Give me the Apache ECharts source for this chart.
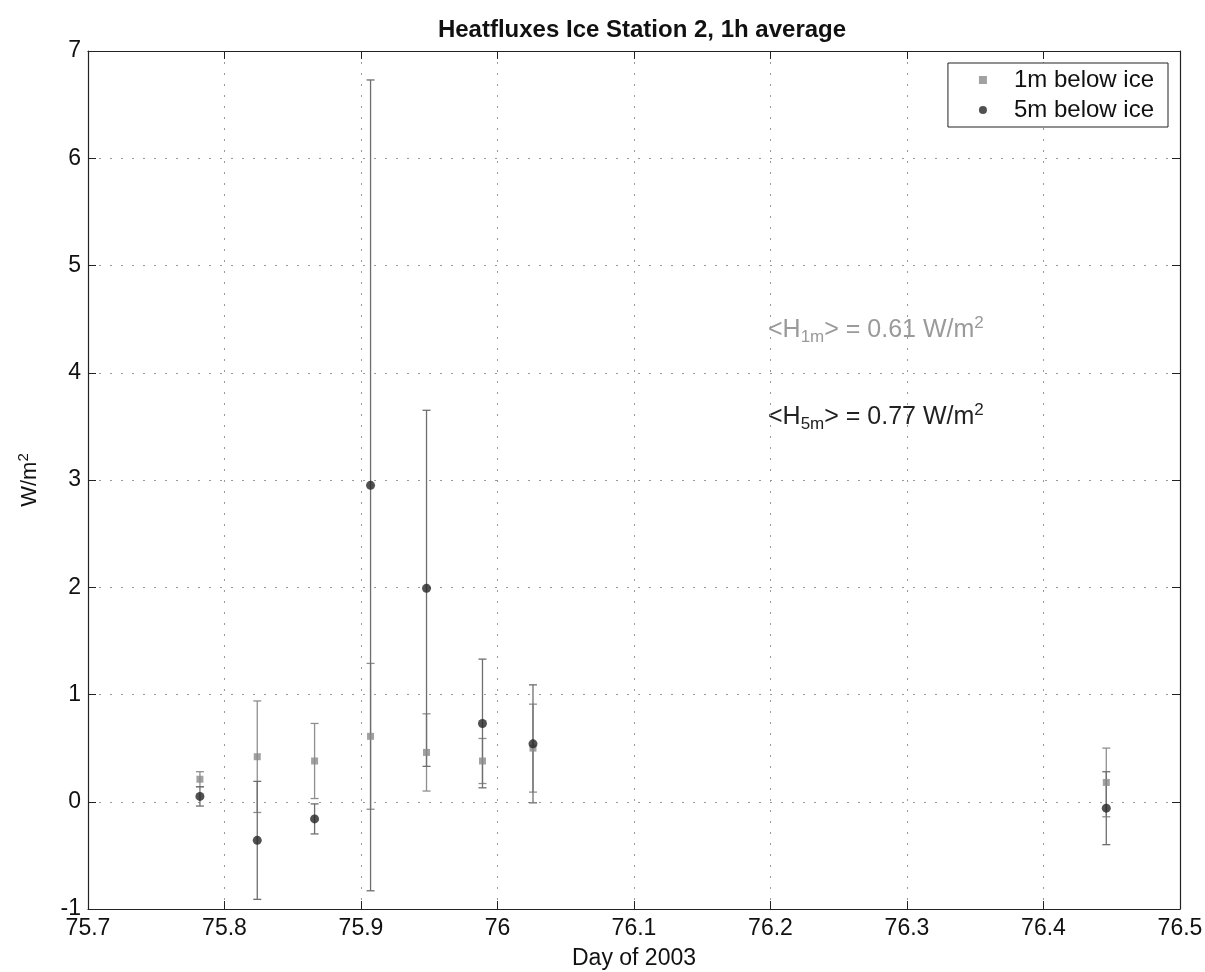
<!DOCTYPE html>
<html>
<head>
<meta charset="utf-8">
<script src="https://cdn.jsdelivr.net/npm/echarts@6/dist/echarts.min.js"></script>
<style>
  html, body { margin: 0; padding: 0; background: #fff; }
  #chart { width: 1205px; height: 972px; }
</style>
</head>
<body>
<div id="chart"></div>
<script>
// Hourly-averaged heat flux under the ice, Ice Station 2
const days   = [75.782, 75.824, 75.866, 75.907, 75.948, 75.989, 76.026, 76.446];
const h1m    = [0.21, 0.42, 0.38, 0.61, 0.46, 0.38, 0.50, 0.18];
const h1mErr = [0.07, 0.52, 0.35, 0.68, 0.36, 0.21, 0.41, 0.32];
const h5m    = [0.05, -0.36, -0.16, 2.95, 1.99, 0.73, 0.54, -0.06];
const h5mErr = [0.09, 0.55, 0.14, 3.78, 1.66, 0.60, 0.55, 0.34];
const xTicks = [75.7, 75.8, 75.9, 76, 76.1, 76.2, 76.3, 76.4, 76.5];
const yTicks = [-1, 0, 1, 2, 3, 4, 5, 6, 7];
const mean1m = '0.61';
const mean5m = '0.77';

const FONT = 'Liberation Sans, Arial, Helvetica, sans-serif';
const C1 = '#8a8a8a';
const C5 = '#262626';

function points(vals) { return days.map((d, i) => [d, vals[i]]); }
function bars(vals, errs) { return days.map((d, i) => [d, vals[i] - errs[i], vals[i] + errs[i]]); }

function errorBarSeries(name, vals, errs, color) {
  return {
    name: name + ' err',
    type: 'custom',
    data: bars(vals, errs),
    encode: { x: 0, y: [1, 2] },
    silent: true,
    z: 2,
    renderItem: function (params, api) {
      const lo = api.coord([api.value(0), api.value(1)]);
      const hi = api.coord([api.value(0), api.value(2)]);
      const cap = 4;
      const style = { stroke: color, lineWidth: 1.3 };
      return {
        type: 'group',
        children: [
          { type: 'line', shape: { x1: lo[0], y1: lo[1], x2: hi[0], y2: hi[1] }, style },
          { type: 'line', shape: { x1: lo[0] - cap, y1: lo[1], x2: lo[0] + cap, y2: lo[1] }, style },
          { type: 'line', shape: { x1: hi[0] - cap, y1: hi[1], x2: hi[0] + cap, y2: hi[1] }, style }
        ]
      };
    }
  };
}

const chart = echarts.init(document.getElementById('chart'), null, { renderer: 'canvas' });

const axisLine = { show: true, onZero: false, lineStyle: { color: '#222', width: 1.2 } };
const tickIn = { show: true, inside: true, length: 8, lineStyle: { color: '#222', width: 1 } };
const gridDots = { show: true, lineStyle: { color: '#9a9a9a', type: [2, 9], width: 1 } };

function annotation(top, sub, value, color) {
  return {
    type: 'text', left: 768, top: top, silent: true,
    style: {
      text: '{t|<H}{b|' + sub + '}{t|> = ' + value + ' W/m}{p|2}',
      rich: {
        t: { fontFamily: FONT, fontSize: 25, fill: color },
        b: { fontFamily: FONT, fontSize: 17, fill: color, verticalAlign: 'bottom', padding: [14, 0, 0, 0] },
        p: { fontFamily: FONT, fontSize: 17, fill: color, verticalAlign: 'top', padding: [0, 0, 14, 0] }
      }
    }
  };
}

chart.setOption({
  animation: false,
  backgroundColor: '#fff',
  title: {
    text: 'Heatfluxes Ice Station 2, 1h average',
    left: 637, top: 13, textAlign: 'center',
    textStyle: { fontFamily: FONT, fontSize: 24, fontWeight: 'bold', color: '#111' }
  },
  grid: { left: 88, right: 25, top: 51, bottom: 63, containLabel: false, outerBoundsMode: 'none' },
  legend: {
    orient: 'vertical',
    right: 37, top: 63,
    backgroundColor: '#fff',
    borderColor: '#222', borderWidth: 1,
    padding: [5, 14, 5, 31],
    itemGap: 6,
    itemWidth: 8, itemHeight: 8,
    textStyle: { fontFamily: FONT, fontSize: 24, color: '#111', padding: [0, 0, 0, 22] },
    data: ['1m below ice', '5m below ice']
  },
  xAxis: [{
    type: 'value', min: 75.7, max: 76.5, interval: 0.1,
    name: 'Day of 2003', nameLocation: 'middle', nameGap: 38,
    nameTextStyle: { fontFamily: FONT, fontSize: 23, color: '#111' },
    axisLine, axisTick: tickIn, splitLine: gridDots,
    axisLabel: {
      fontFamily: FONT, fontSize: 23, color: '#111', margin: 8,
      formatter: v => { const t = xTicks.find(k => Math.abs(k - v) < 1e-6); return t === undefined ? '' : String(t); }
    }
  }, {
    type: 'value', position: 'top', min: 75.7, max: 76.5, interval: 0.1,
    axisLine, axisTick: tickIn, axisLabel: { show: false }, splitLine: { show: false }
  }],
  yAxis: [{
    type: 'value', min: -1, max: 7, interval: 1,
    name: '{a|W/m}{s|2}', nameLocation: 'middle', nameGap: 45,
    nameTextStyle: {
      fontFamily: FONT, color: '#111',
      rich: {
        a: { fontFamily: FONT, fontSize: 22, color: '#111' },
        s: { fontFamily: FONT, fontSize: 15, color: '#111', verticalAlign: 'top', padding: [0, 0, 12, 0] }
      }
    },
    axisLine, axisTick: tickIn, splitLine: gridDots,
    axisLabel: {
      fontFamily: FONT, fontSize: 23, color: '#111', margin: 7,
      formatter: v => { const t = yTicks.find(k => Math.abs(k - v) < 1e-6); return t === undefined ? '' : String(t); }
    }
  }, {
    type: 'value', position: 'right', min: -1, max: 7, interval: 1,
    axisLine, axisTick: tickIn, axisLabel: { show: false }, splitLine: { show: false }
  }],
  graphic: [
    annotation(315, '1m', mean1m, '#9a9a9a'),
    annotation(402, '5m', mean5m, '#222')
  ],
  series: [
    errorBarSeries('1m below ice', h1m, h1mErr, '#8f8f8f'),
    errorBarSeries('5m below ice', h5m, h5mErr, '#6e6e6e'),
    {
      name: '1m below ice', type: 'scatter', data: points(h1m),
      symbol: 'rect', symbolSize: 7, itemStyle: { color: C1 }, z: 3
    },
    {
      name: '5m below ice', type: 'scatter', data: points(h5m),
      symbol: 'circle', symbolSize: 9, itemStyle: { color: C5 }, z: 4
    }
  ]
});
</script>
</body>
</html>
